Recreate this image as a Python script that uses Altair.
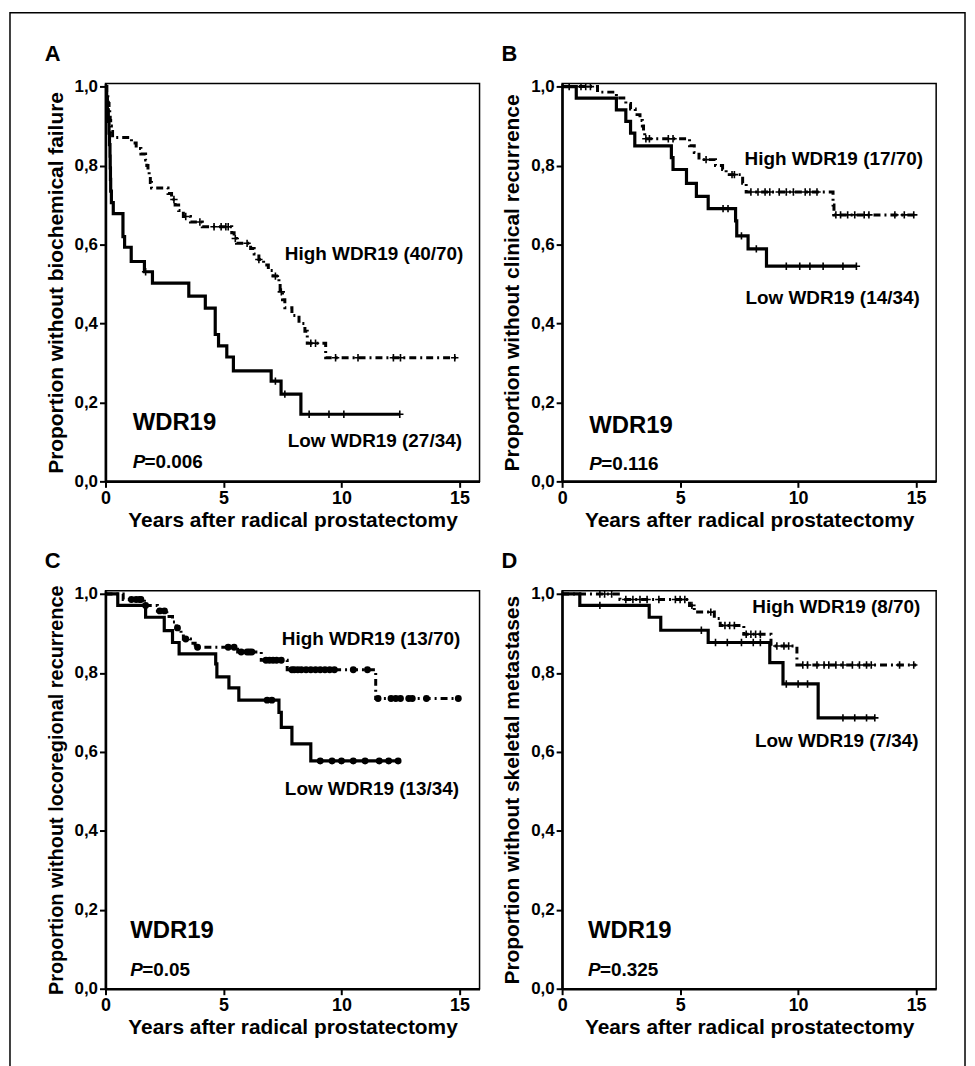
import altair as alt
import pandas as pd

FONT = "Liberation Sans"
X_MAX = 15.85
Y_MAX = 1.008
Y_TICKS = [0.0, 0.2, 0.4, 0.6, 0.8, 1.0]
X_TICKS = [0, 5, 10, 15]
X_TITLE = "Years after radical prostatectomy"
MARKER = "WDR19"

# ---------------- Panel A ----------------
A_YTITLE = "Proportion without biochemical failure"
A_LOW_T = [0, 0.05, 0.08, 0.12, 0.15, 0.17, 0.19, 0.20, 0.21, 0.22, 0.25, 0.33, 0.74, 0.81,
           1.09, 1.65, 1.99, 3.53, 4.23, 4.65, 4.79, 5.14, 5.42, 7.02, 7.44, 8.28, 12.47]
A_LOW_S = [1.0, 0.971, 0.941, 0.912, 0.882, 0.853, 0.824, 0.794, 0.765, 0.735, 0.706, 0.678, 0.62, 0.593,
           0.557, 0.531, 0.502, 0.469, 0.439, 0.372, 0.343, 0.315, 0.280, 0.254, 0.221, 0.170, 0.170]
A_LOW_C = [1.7, 7.2, 7.6, 8.63, 9.47, 10.1, 12.47]
A_HIGH_T = [0, 0.05, 0.1, 0.12, 0.15, 0.18, 0.2, 0.22, 0.25, 0.3, 1.1, 1.3, 1.5, 1.7, 1.75, 1.8, 1.85,
            1.9, 1.95, 2.65, 2.8, 2.95, 3.1, 3.3, 3.6, 4.1, 5.35, 5.45, 5.55, 6.15, 6.3, 6.5, 6.7,
            6.9, 7.1, 7.35, 7.4, 7.5, 7.6, 7.9, 8.2, 8.45, 8.55, 9.33, 14.9]
A_HIGH_S = [1.0, 0.986, 0.971, 0.957, 0.943, 0.929, 0.914, 0.9, 0.886, 0.871, 0.857, 0.843, 0.829, 0.814,
            0.8, 0.786, 0.771, 0.757, 0.743, 0.729, 0.714, 0.7, 0.686, 0.671, 0.657, 0.645, 0.63, 0.615,
            0.603, 0.59, 0.576, 0.562, 0.548, 0.534, 0.52, 0.5, 0.48, 0.46, 0.44, 0.42, 0.40, 0.38,
            0.35, 0.313, 0.313]
A_HIGH_C = [2.9, 3.4, 4.0, 4.6, 4.9, 5.1, 5.2, 5.5, 6.0, 6.5, 7.2, 7.45, 8.7, 8.9, 9.75, 10.7,
            12.2, 12.5, 14.8]
A_HIGH_LBL = "High WDR19 (40/70)"
A_LOW_LBL = "Low WDR19 (27/34)"
A_P = "=0.006"
A_POS = {"high": (7.6, 0.575), "low": (7.72, 0.101), "marker": (1.15, 0.149), "p": (1.15, 0.05)}

# ---------------- Panel B ----------------
B_YTITLE = "Proportion without clinical recurrence"
B_LOW_T = [0, 0.6, 2.3, 2.7, 2.9, 3.08, 4.63, 4.7, 5.27, 5.69, 6.19, 7.35, 7.4, 7.88, 8.66, 12.47]
B_LOW_S = [1.0, 0.971, 0.941, 0.912, 0.882, 0.85, 0.82, 0.79, 0.755, 0.722, 0.691, 0.66, 0.622,
           0.589, 0.545, 0.545]
B_LOW_C = [6.82, 7.03, 7.6, 8.23, 9.5, 10.07, 10.5, 11.06, 11.9, 12.47]
B_HIGH_T = [0, 1.5, 2.3, 2.7, 2.9, 3.1, 3.3, 3.4, 3.45, 3.5, 5.4, 5.6, 5.8, 6.5, 6.8, 6.95, 7.65,
            7.8, 11.48, 11.52, 15.0]
B_HIGH_S = [1.0, 0.986, 0.971, 0.957, 0.943, 0.929, 0.914, 0.9, 0.886, 0.868, 0.85, 0.833, 0.815,
            0.80, 0.79, 0.777, 0.755, 0.733, 0.70, 0.675, 0.675]
B_HIGH_C = [0.3, 0.8, 1.0, 1.2, 3.55, 3.7, 4.5, 4.7, 6.1, 7.2, 7.3, 8.0, 8.3, 8.6, 8.8, 9.2, 9.5,
            9.8, 10.3, 10.5, 10.8, 11.6, 11.8, 12.1, 12.4, 12.8, 13.0, 14.1, 14.5, 14.9]
B_HIGH_LBL = "High WDR19 (17/70)"
B_LOW_LBL = "Low WDR19 (14/34)"
B_P = "=0.116"
B_POS = {"high": (7.73, 0.816), "low": (7.77, 0.464), "marker": (1.15, 0.14), "p": (1.15, 0.045)}

# ---------------- Panel C ----------------
C_YTITLE = "Proportion without locoregional recurrence"
C_LOW_T = [0, 0.52, 1.7, 2.49, 2.84, 3.12, 4.67, 4.72, 5.23, 5.65, 7.35, 7.45, 7.9, 8.7, 12.4]
C_LOW_S = [1.0, 0.971, 0.941, 0.907, 0.877, 0.848, 0.823, 0.79, 0.762, 0.731, 0.70, 0.662, 0.62,
           0.577, 0.577]
C_LOW_C = [6.85, 7.05, 9.1, 9.6, 10.0, 10.5, 11.0, 11.6, 12.0, 12.4]
C_HIGH_T = [0, 0.75, 1.65, 2.2, 2.6, 2.84, 3.0, 3.2, 3.3, 3.6, 3.8, 5.6, 6.6, 7.7, 11.45, 15.0]
C_HIGH_S = [1.0, 0.986, 0.971, 0.957, 0.943, 0.929, 0.914, 0.9, 0.886, 0.875, 0.865, 0.853, 0.832,
            0.808, 0.735, 0.735]
C_HIGH_C = [1.1, 1.3, 1.45, 1.5, 1.7, 2.3, 2.5, 3.05, 3.4, 3.9, 5.2, 5.45, 5.75, 6.0, 6.1, 6.2,
            6.8, 6.95, 7.1, 7.25, 7.45, 7.9, 8.0, 8.15, 8.3, 8.5, 8.7, 8.9, 9.1, 9.3, 9.5, 9.7,
            10.5, 11.1, 11.55, 12.1, 12.3, 12.5, 12.85, 13.0, 13.6, 14.95]
C_HIGH_LBL = "High WDR19 (13/70)"
C_LOW_LBL = "Low WDR19 (13/34)"
C_P = "=0.05"
C_POS = {"high": (7.47, 0.887), "low": (7.6, 0.505), "marker": (1.05, 0.146), "p": (1.05, 0.048)}

# ---------------- Panel D ----------------
D_YTITLE = "Proportion without skeletal metastases"
D_LOW_T = [0, 0.75, 3.69, 4.18, 6.19, 8.8, 9.36, 10.85, 13.25]
D_LOW_S = [1.0, 0.971, 0.941, 0.908, 0.877, 0.826, 0.772, 0.686, 0.686]
D_LOW_C = [1.6, 5.9, 6.5, 7.0, 7.6, 8.1, 8.4, 9.5, 10.0, 10.4, 11.9, 12.4, 12.9, 13.25]
D_HIGH_T = [0, 2.45, 5.4, 5.6, 6.45, 6.7, 7.7, 8.85, 9.95, 15.0]
D_HIGH_S = [1.0, 0.986, 0.971, 0.954, 0.938, 0.92, 0.898, 0.868, 0.82, 0.82]
D_HIGH_C = [1.6, 1.8, 2.1, 2.7, 3.0, 3.3, 3.6, 4.1, 4.8, 5.0, 5.2, 5.5, 6.3, 6.9, 7.1, 7.3, 7.8,
            8.0, 8.2, 8.4, 9.1, 9.4, 9.6, 10.2, 10.4, 10.8, 11.1, 11.3, 11.6, 11.9, 12.3, 12.6,
            12.9, 13.1, 14.3, 14.9]
D_HIGH_LBL = "High WDR19 (8/70)"
D_LOW_LBL = "Low WDR19 (7/34)"
D_P = "=0.325"
D_POS = {"high": (8.06, 0.968), "low": (8.17, 0.627), "marker": (1.1, 0.146), "p": (1.1, 0.048)}


def censor_df(ts, ss, cts):
    rows = []
    for c in cts:
        v = ss[0]
        for ti, si in zip(ts, ss):
            if ti <= c:
                v = si
        rows.append({"t": c, "s": v})
    return pd.DataFrame(rows)


def panel(letter, ytitle, low_t, low_s, low_c, high_t, high_s, high_c,
          high_lbl, low_lbl, ptxt, pos, dots=False, ytitle_size=21, border=False):
    xaxis = alt.Axis(values=X_TICKS, title=X_TITLE, grid=False, labelFont=FONT, labelFontSize=18,
                     labelFontWeight="bold", labelColor="black", titleFont=FONT, titleFontSize=21,
                     titleFontWeight="bold", titleColor="black", tickColor="black", tickWidth=2,
                     tickSize=6, domainColor="black", domainWidth=2.5, labelPadding=2,
                     titlePadding=2, labelFlush=False)
    yaxis = alt.Axis(values=Y_TICKS, title=ytitle, grid=False, labelFont=FONT, labelFontSize=17,
                     labelFontWeight="bold", labelColor="black", titleFont=FONT,
                     titleFontSize=ytitle_size, titleFontWeight="bold", titleColor="black",
                     tickColor="black", tickWidth=2, tickSize=6, domainColor="black",
                     domainWidth=2.5, labelPadding=2, titlePadding=8, labelFlush=False,
                     labelExpr="replace(format(datum.value, '.1f'), '.', ',')")
    xs = alt.Scale(domain=[0, X_MAX], nice=False, zero=False)
    ys = alt.Scale(domain=[0, Y_MAX], nice=False)
    X = alt.X("t:Q", scale=xs, axis=xaxis)
    Y = alt.Y("s:Q", scale=ys, axis=yaxis)

    low = alt.Chart(pd.DataFrame({"t": low_t, "s": low_s})).mark_line(
        interpolate="step-after", color="black", strokeWidth=3.2).encode(x=X, y=Y)
    high = alt.Chart(pd.DataFrame({"t": high_t, "s": high_s})).mark_line(
        interpolate="step-after", color="black", strokeWidth=3.0,
        strokeDash=[7, 4, 2, 4]).encode(x=X, y=Y)

    if dots:
        cmark = dict(shape="circle", filled=True, size=48, color="black", opacity=1)
    else:
        cmark = dict(shape="M0,-1L0,1M-1,0L1,0", filled=False, size=55, color="black",
                     strokeWidth=1.6, opacity=1)
    lowc = alt.Chart(censor_df(low_t, low_s, low_c)).mark_point(**cmark).encode(x=X, y=Y)
    highc = alt.Chart(censor_df(high_t, high_s, high_c)).mark_point(**cmark).encode(x=X, y=Y)

    lbl = pd.DataFrame({
        "t": [pos["high"][0], pos["low"][0]],
        "s": [pos["high"][1], pos["low"][1]],
        "txt": [high_lbl, low_lbl]})
    labels = alt.Chart(lbl).mark_text(align="left", baseline="middle", font=FONT, fontSize=19,
                                      fontWeight="bold", color="black").encode(x=X, y=Y, text="txt:N")
    mk = alt.Chart(pd.DataFrame({"t": [pos["marker"][0]], "s": [pos["marker"][1]], "txt": [MARKER]})
                   ).mark_text(align="left", baseline="middle", font=FONT, fontSize=24,
                               fontWeight="bold", color="black").encode(x=X, y=Y, text="txt:N")
    pdf = pd.DataFrame({"t": [pos["p"][0]], "s": [pos["p"][1]], "txt": ["P"]})
    p1 = alt.Chart(pdf).mark_text(align="left", baseline="middle", font=FONT, fontSize=19,
                                  fontWeight="bold", fontStyle="italic", color="black"
                                  ).encode(x=X, y=Y, text="txt:N")
    pdf2 = pd.DataFrame({"t": [pos["p"][0]], "s": [pos["p"][1]], "txt": [ptxt]})
    p2 = alt.Chart(pdf2).mark_text(align="left", baseline="middle", font=FONT, fontSize=19,
                                   fontWeight="bold", color="black", dx=12
                                   ).encode(x=X, y=Y, text="txt:N")
    letter_mark = alt.Chart(pd.DataFrame({"txt": [letter]})).mark_text(
        align="left", baseline="alphabetic", font=FONT, fontSize=22, fontWeight="bold",
        color="black").encode(x=alt.value(-61), y=alt.value(-23), text="txt:N")

    layers = [low, high, lowc, highc, labels, mk, p1, p2, letter_mark]
    if border:
        frame = alt.Chart(pd.DataFrame({"k": [0]})).mark_rect(
            fillOpacity=0, stroke="black", strokeWidth=1.5).encode(
            x=alt.value(-96), x2=alt.value(864), y=alt.value(-71), y2=alt.value(1010))
        layers = [frame] + layers
    return alt.layer(*layers).properties(width=376, height=400)


pa = panel("A", A_YTITLE, A_LOW_T, A_LOW_S, A_LOW_C, A_HIGH_T, A_HIGH_S, A_HIGH_C,
           A_HIGH_LBL, A_LOW_LBL, A_P, A_POS, border=True)
pb = panel("B", B_YTITLE, B_LOW_T, B_LOW_S, B_LOW_C, B_HIGH_T, B_HIGH_S, B_HIGH_C,
           B_HIGH_LBL, B_LOW_LBL, B_P, B_POS)
pc = panel("C", C_YTITLE, C_LOW_T, C_LOW_S, C_LOW_C, C_HIGH_T, C_HIGH_S, C_HIGH_C,
           C_HIGH_LBL, C_LOW_LBL, C_P, C_POS, dots=True, ytitle_size=20)
pd_ = panel("D", D_YTITLE, D_LOW_T, D_LOW_S, D_LOW_C, D_HIGH_T, D_HIGH_S, D_HIGH_C,
            D_HIGH_LBL, D_LOW_LBL, D_P, D_POS)

chart = alt.concat(pa, pb, pc, pd_, columns=2, spacing={"row": 110, "column": 83},
                   bounds="flush").properties(
    padding={"left": 0, "top": 0, "right": 0, "bottom": 0}, background="white"
).configure_view(stroke="black", strokeWidth=1.5)

chart.save("out.html", embed_options={"renderer": "svg", "actions": False})
